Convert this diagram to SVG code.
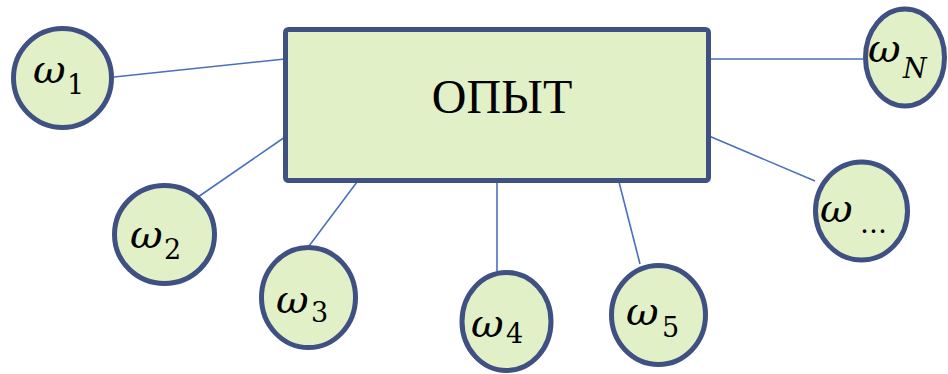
<svg xmlns="http://www.w3.org/2000/svg" width="948" height="374" viewBox="0 0 948 374">
<style>
.node{fill:#E1F0C7;stroke:#3F5083;stroke-width:5}
.conn line{stroke:#4A6FBD;stroke-width:1.6}
.w{font-family:'DejaVu Serif','Liberation Serif',serif;font-style:italic;font-size:40px;fill:#000}
.s{font-family:'DejaVu Serif','Liberation Serif',serif;font-size:27px;fill:#000}
.si{font-family:'DejaVu Serif','Liberation Serif',serif;font-style:italic;font-size:27px;fill:#000}
.main{font-family:'Liberation Serif','Times New Roman','DejaVu Serif',serif;font-size:48px;fill:#000}
</style>
<rect width="948" height="374" fill="#FFFFFF"/>
<g id="connectors" class="conn">
<line x1="114" y1="77" x2="285" y2="59"/>
<line x1="285" y1="137" x2="198" y2="197"/>
<line x1="357" y1="182" x2="309" y2="246"/>
<line x1="497" y1="182" x2="497" y2="271"/>
<line x1="619" y1="182" x2="640" y2="264"/>
<line x1="709" y1="136" x2="815" y2="181"/>
<line x1="709" y1="59" x2="863" y2="59"/>
</g>
<g id="experiment">
<rect class="node" x="285.5" y="29.5" width="423" height="151" rx="3"/>
<text class="main" x="502" y="113" text-anchor="middle">ОПЫТ</text>
</g>
<g id="omega1">
<ellipse class="node" cx="62.5" cy="78" rx="49" ry="49.5"/>
<text class="w" x="33" y="83">ω</text><text class="s" x="67" y="94">1</text>
</g>
<g id="omega2">
<ellipse class="node" cx="164.5" cy="234.5" rx="50" ry="49"/>
<text class="w" x="130" y="248">ω</text><text class="s" x="164" y="259">2</text>
</g>
<g id="omega3">
<ellipse class="node" cx="308.5" cy="297.5" rx="47" ry="50"/>
<text class="w" x="276" y="313">ω</text><text class="s" x="311" y="322">3</text>
</g>
<g id="omega4">
<ellipse class="node" cx="506.5" cy="321.5" rx="44.5" ry="49"/>
<text class="w" x="471" y="337">ω</text><text class="s" x="506" y="343">4</text>
</g>
<g id="omega5">
<ellipse class="node" cx="658.5" cy="315" rx="47" ry="49.5"/>
<text class="w" x="626" y="325">ω</text><text class="s" x="662" y="337">5</text>
</g>
<g id="omega-dots">
<ellipse class="node" cx="861.5" cy="211" rx="46" ry="49"/>
<text class="w" x="820" y="222">ω</text><text class="s" x="860" y="233">…</text>
</g>
<g id="omegaN">
<ellipse class="node" cx="905" cy="57.5" rx="39.5" ry="48.5"/>
<text class="w" x="868" y="62">ω</text><text class="si" x="903" y="78">N</text>
</g>
</svg>
